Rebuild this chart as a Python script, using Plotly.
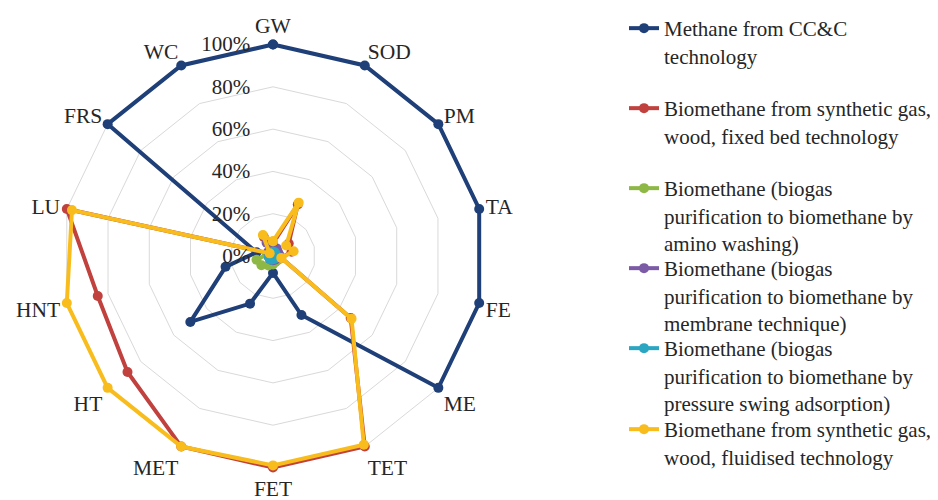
import plotly.graph_objects as go

categories = ["GW", "SOD", "PM", "TA", "FE", "ME", "TET", "FET", "MET", "HT", "HNT", "LU", "FRS", "WC"]

methane_ccc = [100, 100, 100, 100, 100, 100, 31, 8, 25, 50, 23, 8, 100, 100]
bio_fixed_bed = [6, 27, 9.5, 9, 4, 47, 100, 100, 100, 88, 85, 100, 2, 10]
bio_amino = [3, 3, 2, 2, 2, 3, 3, 4, 5, 7, 8, 3, 2, 2]
bio_membrane = [4, 4, 3, 3, 2, 2, 2, 2, 2, 2, 2, 2, 3, 7]
bio_psa = [2, 2, 1.5, 1.5, 1.5, 1.5, 1.5, 1.5, 2, 2, 2, 1.5, 1.5, 2]
bio_fluidised = [7, 28, 8, 10, 4, 47.5, 99, 99, 100, 100, 100, 97.5, 2, 11]

tick_vals = [0, 20, 40, 60, 80, 100]
tick_text = ["0%", "20%", "40%", "60%", "80%", "100%"]

series = [
    ("Methane from CC&C<br>technology", methane_ccc, "#1F3F78"),
    ("Biomethane from synthetic gas,<br>wood, fixed bed technology", bio_fixed_bed, "#C0413D"),
    ("Biomethane (biogas<br>purification to biomethane by<br>amino washing)", bio_amino, "#8DB845"),
    ("Biomethane (biogas<br>purification to biomethane by<br>membrane technique)", bio_membrane, "#7B5AA6"),
    ("Biomethane (biogas<br>purification to biomethane by<br>pressure swing adsorption)", bio_psa, "#2AA5C2"),
    ("Biomethane from synthetic gas,<br>wood, fluidised technology", bio_fluidised, "#F8BC1C"),
]

FONT = "Liberation Serif"
TXT = "#262626"
legend_tops = [29, 109, 189, 269, 349, 430]

fig = go.Figure()
layout_legends = {}
for i, (name, vals, col) in enumerate(series):
    lname = "legend" if i == 0 else f"legend{i+1}"
    fig.add_trace(go.Scatterpolar(
        r=vals + vals[:1],
        theta=categories + categories[:1],
        mode="lines+markers",
        name=name,
        line=dict(color=col, width=4),
        marker=dict(color=col, size=10),
        cliponaxis=False,
        legend=lname,
    ))
    layout_legends[lname] = dict(
        x=616 / 938, xanchor="left",
        y=1 - (legend_tops[i] - 29) / 500, yanchor="top",
        valign="top",
        font=dict(family=FONT, size=21, color=TXT),
        bgcolor="rgba(0,0,0,0)",
        borderwidth=0,
    )

RMAX = 103
cx, cy, R = 265, 248, 211.5 * RMAX / 100
fig.update_layout(
    width=938, height=500,
    margin=dict(l=0, r=0, t=0, b=0),
    paper_bgcolor="white",
    plot_bgcolor="white",
    font=dict(family=FONT, size=21, color=TXT),
    showlegend=True,
    polar=dict(
        domain=dict(x=[(cx - R) / 938, (cx + R) / 938],
                    y=[(500 - cy - R) / 500, (500 - cy + R) / 500]),
        gridshape="linear",
        bgcolor="white",
        radialaxis=dict(
            range=[0, RMAX],
            tickvals=tick_vals,
            ticktext=tick_text,
            angle=90,
            side="counterclockwise",
            tickangle=90,
            showline=False,
            gridcolor="#D9D9D9",
            gridwidth=1,
            ticks="outside",
            ticklen=15,
            tickcolor="rgba(0,0,0,0)",
            tickfont=dict(family=FONT, size=21, color=TXT),
        ),
        angularaxis=dict(
            rotation=90,
            direction="clockwise",
            showgrid=False,
            showline=False,
            ticks="",
            tickfont=dict(family=FONT, size=21.5, color=TXT),
        ),
    ),
    **layout_legends,
)

fig.write_html("out.html")
